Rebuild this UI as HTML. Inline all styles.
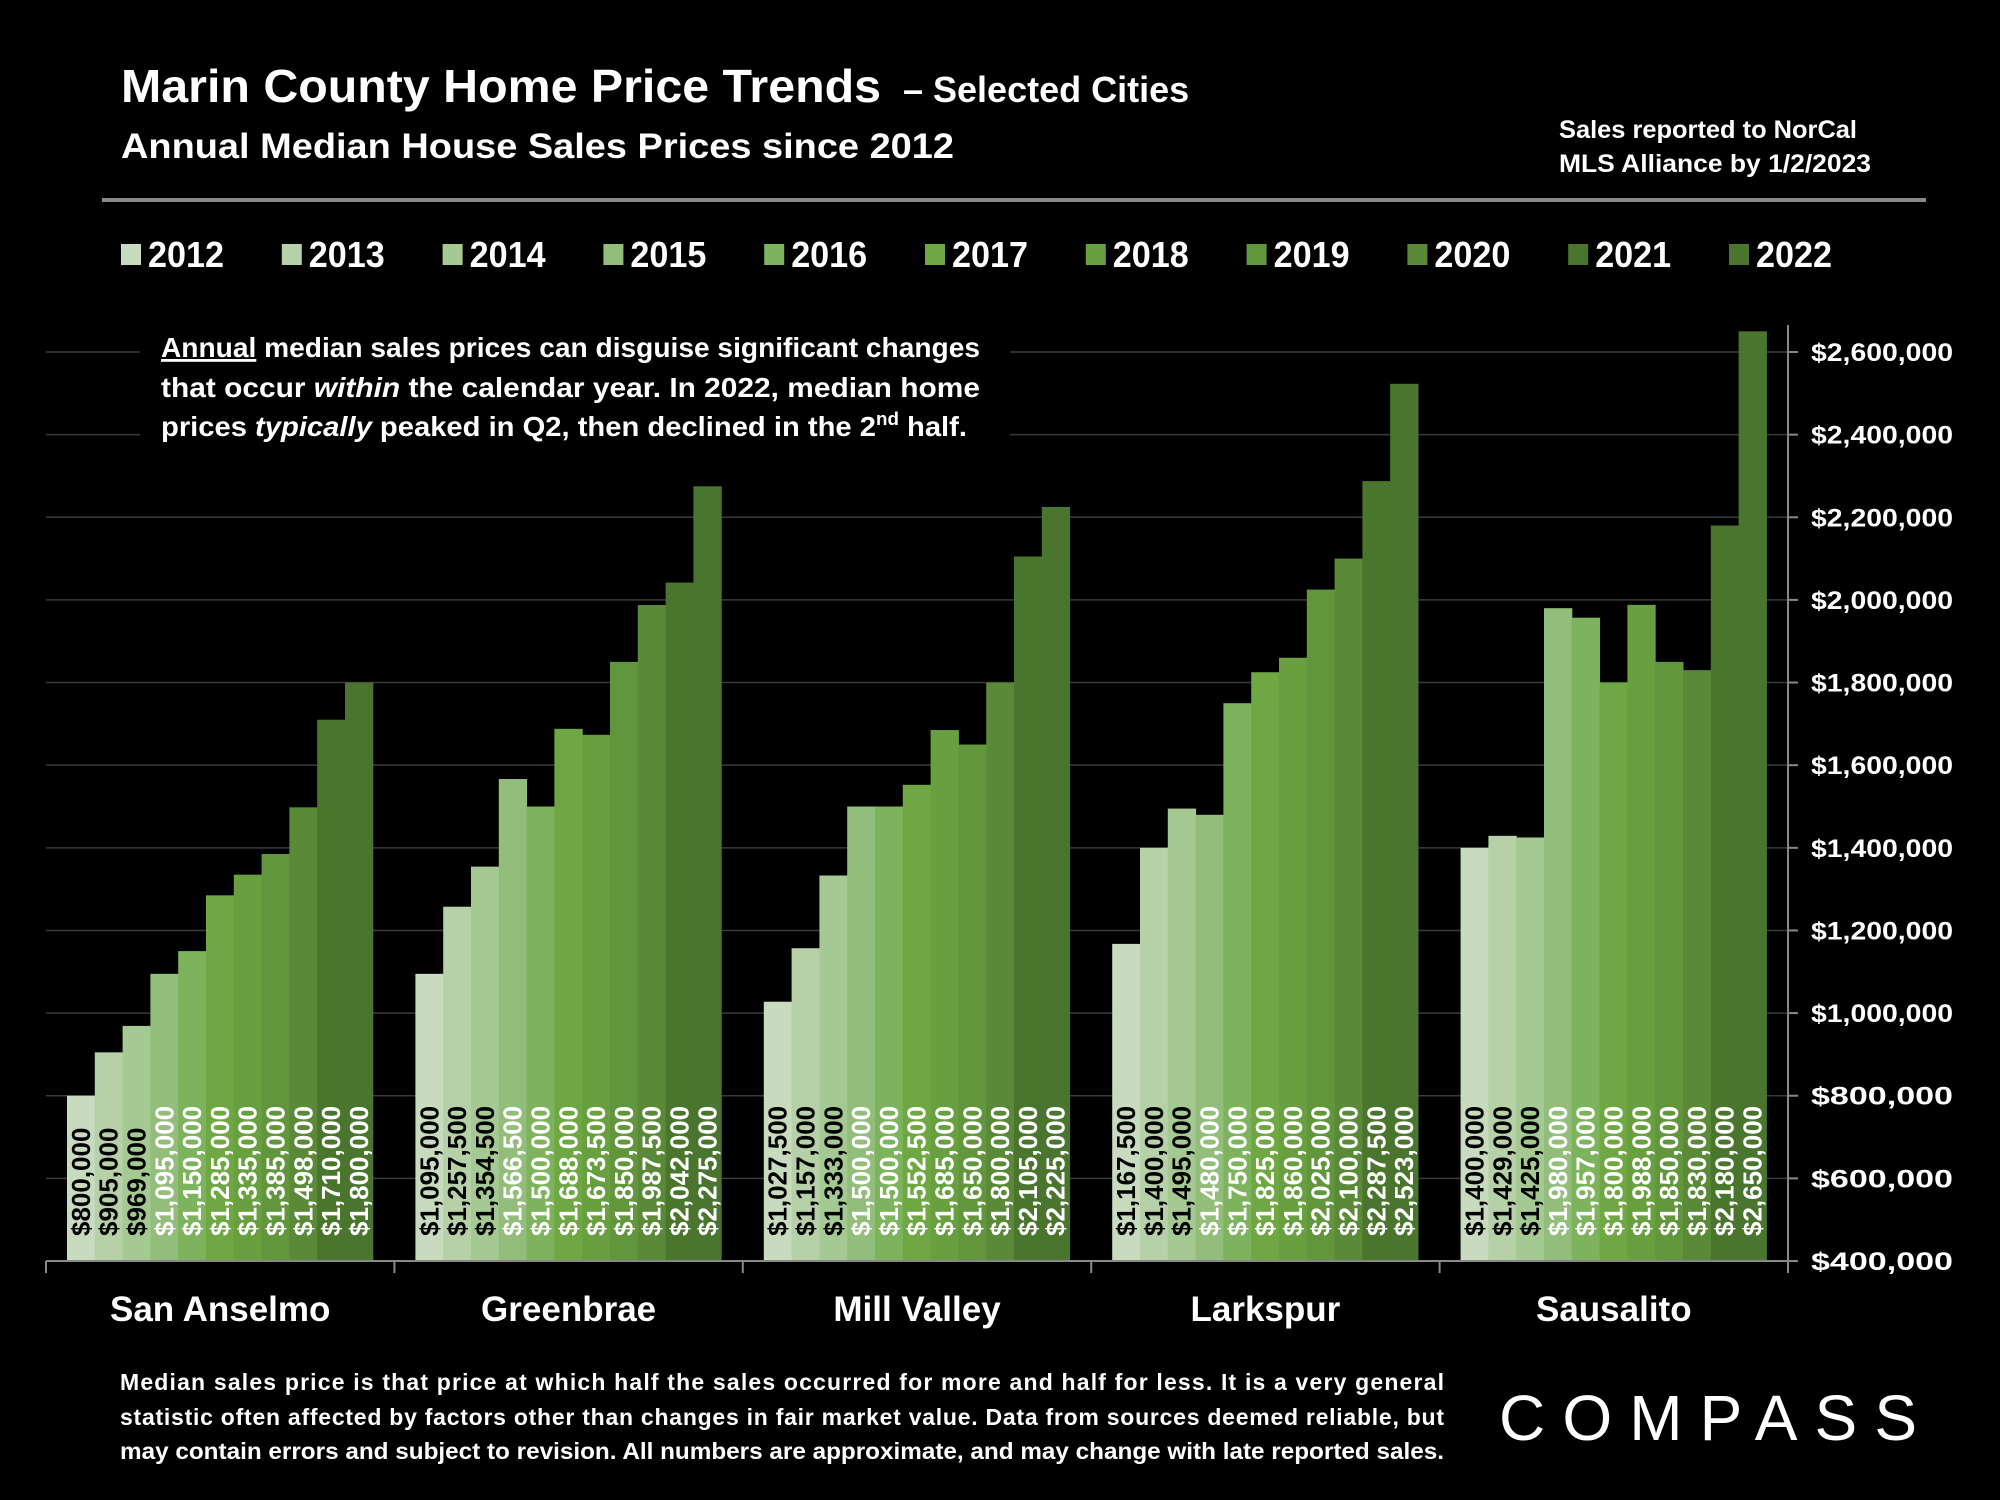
<!DOCTYPE html>
<html><head><meta charset="utf-8"><style>
html,body{margin:0;padding:0;background:#000;}
svg{display:block;font-family:"Liberation Sans",sans-serif;}
</style></head><body>
<svg id="chart" width="2000" height="1500" viewBox="0 0 2000 1500" xmlns="http://www.w3.org/2000/svg">
<rect width="2000" height="1500" fill="#000"/>
<text x="121" y="102" fill="#fff" font-weight="bold" font-size="46"><tspan textLength="760" lengthAdjust="spacingAndGlyphs">Marin County Home Price Trends</tspan><tspan font-size="36" dx="12"> – Selected Cities</tspan></text>
<text x="121" y="158" fill="#fff" font-weight="bold" font-size="35" textLength="833" lengthAdjust="spacingAndGlyphs">Annual Median House Sales Prices since 2012</text>
<text x="1559" y="138" fill="#fff" font-weight="bold" font-size="25" textLength="298" lengthAdjust="spacingAndGlyphs">Sales reported to NorCal</text>
<text x="1559" y="172" fill="#fff" font-weight="bold" font-size="25" textLength="312" lengthAdjust="spacingAndGlyphs">MLS Alliance by 1/2/2023</text>
<rect x="102" y="198" width="1824" height="4" fill="#8a8a8a"/>
<g id="grid"></g>
<g id="bars"></g>
<g id="legend"></g>
<rect x="140" y="322" width="870" height="130" fill="#000"/>
<g fill="#fff" font-size="28" font-weight="bold">
<text x="161" y="357" textLength="819" lengthAdjust="spacingAndGlyphs"><tspan text-decoration="underline">Annual</tspan> median sales prices can disguise significant changes</text>
<text x="161" y="397" textLength="819" lengthAdjust="spacingAndGlyphs">that occur <tspan font-style="italic">within</tspan> the calendar year. In 2022, median home</text>
<text x="161" y="436" textLength="806" lengthAdjust="spacingAndGlyphs">prices <tspan font-style="italic">typically</tspan> peaked in Q2, then declined in the 2<tspan font-size="18" dy="-11">nd</tspan><tspan dy="11"> half.</tspan></text>
</g>
<g fill="#fff" font-size="23" font-weight="bold">
<text x="120" y="1390" textLength="1324" lengthAdjust="spacing">Median sales price is that price at which half the sales occurred for more and half for less. It is a very general</text>
<text x="120" y="1425" textLength="1324" lengthAdjust="spacing">statistic often affected by factors other than changes in fair market value. Data from sources deemed reliable, but</text>
<text x="120" y="1459" textLength="1324" lengthAdjust="spacingAndGlyphs">may contain errors and subject to revision. All numbers are approximate, and may change with late reported sales.</text>
</g>
<text x="1499" y="1440" fill="#fff" font-size="64" textLength="418" lengthAdjust="spacing">COMPASS</text>
</svg>
<script>
const years = ["2012","2013","2014","2015","2016","2017","2018","2019","2020","2021","2022"];
const cities = ["San Anselmo","Greenbrae","Mill Valley","Larkspur","Sausalito"];
const sanAnselmo = [800000,905000,969000,1095000,1150000,1285000,1335000,1385000,1498000,1710000,1800000];
const greenbrae = [1095000,1257500,1354500,1566500,1500000,1688000,1673500,1850000,1987500,2042000,2275000];
const millValley = [1027500,1157000,1333000,1500000,1500000,1552500,1685000,1650000,1800000,2105000,2225000];
const larkspur = [1167500,1400000,1495000,1480000,1750000,1825000,1860000,2025000,2100000,2287500,2523000];
const sausalito = [1400000,1429000,1425000,1980000,1957000,1800000,1988000,1850000,1830000,2180000,2650000];
const yTicks = [400000,600000,800000,1000000,1200000,1400000,1600000,1800000,2000000,2200000,2400000,2600000];
const colors = ["#c8dbbf","#b6d0a8","#a5c992","#93bd7b","#7eb35d","#6fa842","#68a040","#62963c","#5a8a38","#4a752c","#4a752e"];
const series = [sanAnselmo,greenbrae,millValley,larkspur,sausalito];

const NS="http://www.w3.org/2000/svg";
const X0=46, X1=1788, Y0=1261, Y1=352, VMIN=400000, VMAX=2600000;
const gw=(X1-X0)/cities.length, bw=27.8, pad=21;
function y(v){return Y0-(v-VMIN)/(VMAX-VMIN)*(Y0-Y1);}
function mk(tag,attrs,parent){const e=document.createElementNS(NS,tag);for(const k in attrs)e.setAttribute(k,attrs[k]);parent.appendChild(e);return e;}
const grid=document.getElementById('grid'), bars=document.getElementById('bars'), legend=document.getElementById('legend');
function fmt(v){return "$"+v.toLocaleString("en-US");}

yTicks.forEach(t=>{
  const yy=y(t);
  if(t>VMIN){const l=mk('line',{x1:X0,x2:X1,y1:yy,y2:yy,stroke:'#3a3a3a','stroke-width':1.5},grid);
  
  }
  const tk=mk('line',{x1:X1,x2:X1+10,y1:yy,y2:yy,stroke:'#888','stroke-width':2},grid);
  
  
  const tx=mk('text',{x:1811,y:yy+9,fill:'#fff','font-size':25,'font-weight':'bold',textLength:142,lengthAdjust:'spacingAndGlyphs'},grid);
  tx.textContent=fmt(t);
  
  
});
const ax=mk('line',{x1:X1,x2:X1,y1:325,y2:Y0,stroke:'#888','stroke-width':2},grid);



cities.forEach((c,ci)=>{
  const gx=X0+ci*gw;
  series[ci].forEach((v,i)=>{
    const bx=gx+pad+i*bw, by=y(v);
    const r=mk('rect',{x:bx,y:by,width:bw+0.5,height:Y0-by,fill:colors[i]},bars);
    
    
    const cx=bx+bw/2+9, ly=Y0-25;
    const t=mk('text',{x:cx,y:ly,transform:'rotate(-90 '+cx+' '+ly+')',fill:i<3?'#000':'#fff','font-size':26,'font-weight':'bold'},bars);
    t.textContent=fmt(v);
    
    
  });
  const ct=mk('text',{x:gx+gw/2,y:1321,fill:'#fff','font-size':35,'font-weight':'bold','text-anchor':'middle'},bars);
  ct.textContent=c;
  
  
});
for(let i=0;i<=cities.length;i++){
  const xx=X0+i*gw;
  const tk=mk('line',{x1:xx,x2:xx,y1:Y0,y2:Y0+12,stroke:'#888','stroke-width':2},bars);
  
  
}
const xa=mk('line',{x1:X0,x2:X1,y1:Y0,y2:Y0,stroke:'#888','stroke-width':2},bars);



years.forEach((yr,i)=>{
  const lx=121+i*160.8;
  const g=mk('g',{},legend);
  
  
  mk('rect',{x:lx,y:244,width:20,height:21,fill:colors[i]},g);
  const t=mk('text',{x:lx+27,y:267,fill:'#fff','font-size':36,'font-weight':'bold',textLength:76,lengthAdjust:'spacingAndGlyphs'},g);
  t.textContent=yr;
});
</script>
</body></html>
